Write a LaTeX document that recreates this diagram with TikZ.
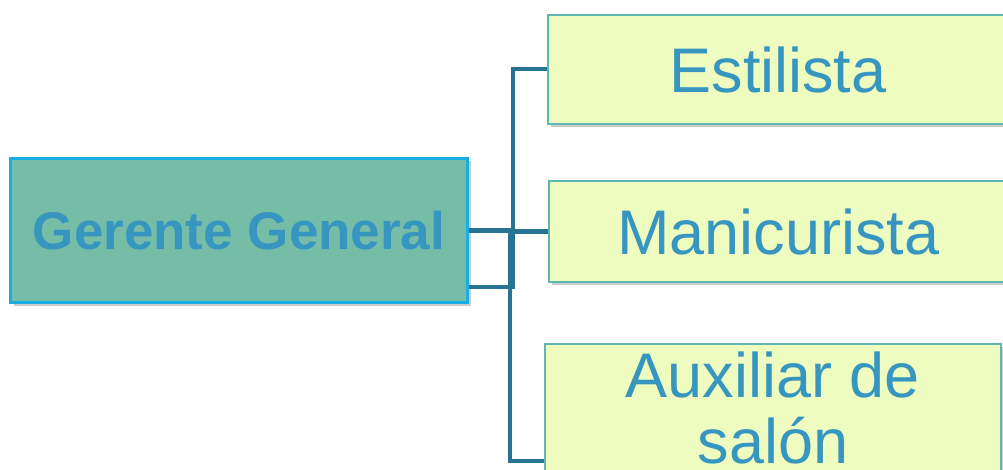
\documentclass[tikz,border=0pt]{standalone}
\usepackage{fontspec}
\setmainfont{Liberation Sans}
\usetikzlibrary{shadows}

\definecolor{gerfill}{RGB}{118,189,168}
\definecolor{gerline}{RGB}{22,174,228}
\definecolor{puesto}{RGB}{238,252,192}
\definecolor{puestoline}{RGB}{95,183,180}
\definecolor{letra}{RGB}{55,150,192}
\definecolor{rama}{RGB}{40,115,145}

\tikzset{
  caja/.style={rectangle, inner sep=0pt, text=letra, align=center,
    drop shadow={shadow xshift=3pt, shadow yshift=-3pt, fill=black!45, opacity=.45}},
  gerente/.style={caja, fill=gerfill, draw=gerline, line width=2.5pt,
    minimum width=457pt, minimum height=144pt,
    font=\fontsize{53}{60}\selectfont\bfseries},
  puesto/.style={caja, fill=puesto, draw=puestoline, line width=2.2pt,
    font=\fontsize{63}{66}\selectfont},
  rama/.style={draw=rama, line width=4.5pt}
}

\begin{document}
\begin{tikzpicture}[x=1pt,y=-1pt]

% Page of the picture
\useasboundingbox (0,0) rectangle (1003,470);
\clip (0,0) rectangle (1003,470);

% The manager on the left
\node[gerente] (G) at (239,230.5) {Gerente General};

% The three posts on the right
\node[puesto, minimum width=460pt, minimum height=109pt] (E) at (778,69.5) {Estilista};
\node[puesto, minimum width=459pt, minimum height=101pt] (M) at (778.5,231.5) {Manicurista};
\node[puesto, minimum width=456pt, minimum height=128pt] (A) at (773,408)
  {Auxiliar de\\salón};

% Trunks of the branches
\coordinate (TE) at (513,69);
\coordinate (TA) at (510,461);

% Branches to every post
\draw[rama] ([yshift=17pt]G.south east) -| (TE) -- (TE -| E.west);
\draw[rama] (G.east) -| (TA) -- (TA -| A.west);
\draw[rama] (TE |- M.west) -- (M.west);

\end{tikzpicture}
\end{document}
